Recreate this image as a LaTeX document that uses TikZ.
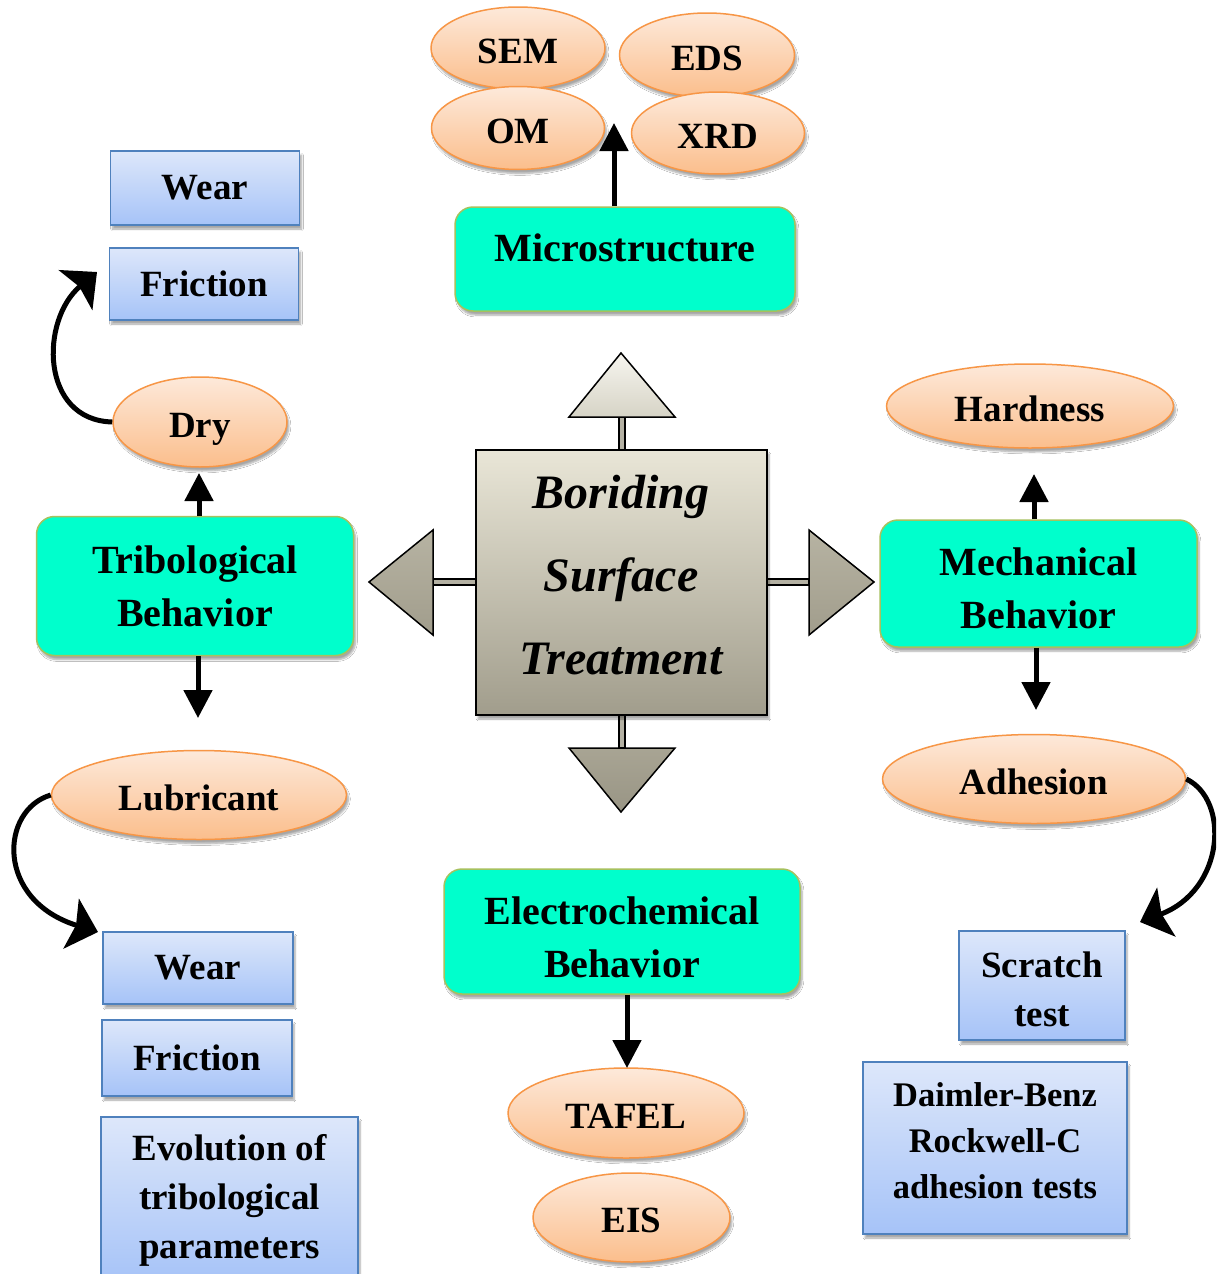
\documentclass[tikz,border=0pt]{standalone}
\usepackage{fontspec}
\setmainfont{Liberation Serif}
\usetikzlibrary{arrows.meta,shapes.geometric,shadows.blur}

\definecolor{aquafill}{HTML}{00FFCC}
\definecolor{aquaedge}{HTML}{A6C15E}
\definecolor{peachtop}{HTML}{FDE9DA}
\definecolor{peachbot}{HTML}{FBBE8C}
\definecolor{peachedge}{HTML}{F79646}
\definecolor{bluetop}{HTML}{DDE7FA}
\definecolor{bluebot}{HTML}{A6C3F8}
\definecolor{blueedge}{HTML}{4F81BD}
\definecolor{coretop}{HTML}{E9E6D7}
\definecolor{corebot}{HTML}{A19D8C}

\tikzset{
  softshadow/.style={blur shadow={shadow xshift=2pt,shadow yshift=-4pt,shadow opacity=35,shadow blur steps=6}},
  topicbox/.style={rectangle,rounded corners=18pt,draw=aquaedge,line width=1.5pt,fill=aquafill,
    softshadow,inner sep=0pt},
  topictext/.style={align=center,inner sep=0pt,font=\fontsize{40}{53}\selectfont\bfseries},
  oval/.style={ellipse,draw=peachedge,line width=1.5pt,top color=peachtop,bottom color=peachbot,
    softshadow,inner sep=0pt,text height=30pt,text depth=0pt,font=\fontsize{37}{44}\selectfont\bfseries},
  itembox/.style={rectangle,draw=blueedge,line width=1.5pt,top color=bluetop,bottom color=bluebot,
    softshadow,align=center,inner sep=0pt,font=\fontsize{37}{49}\selectfont\bfseries},
  itemtext/.style={align=center,inner sep=0pt,font=\fontsize{37}{49}\selectfont\bfseries},
  flowarrow/.style={line width=5pt,-{Triangle[width=28pt,length=28pt]}},
  bendarrow/.style={line width=5pt,-{Stealth[width=52pt,length=28pt,inset=5pt]}},
  spoke/.style={draw=black,line width=1.3pt,fill=corebot!80!white},
  dart/.style={draw=black,line width=1.5pt,line join=miter},
}

\begin{document}
\begin{tikzpicture}[x=1pt,y=1pt]
\clip (0,0) rectangle (1216,-1274);
\fill[white] (0,0) rectangle (1216,-1274);

% ---- central treatment block with its four darts ----
\path[spoke] (619,-417) rectangle (625,-452);
\path[spoke] (619,-713) rectangle (625,-748);
\path[spoke] (433,-579) rectangle (478,-585);
\path[spoke] (765,-579) rectangle (809,-585);
\path[dart,top color=white!60!coretop,bottom color=coretop!92!black] (569,-417) -- (621,-353) -- (675,-417) -- cycle;
\path[dart,top color=corebot!70!coretop,bottom color=corebot] (433,-530) -- (369,-582) -- (433,-635) -- cycle;
\path[dart,top color=corebot!70!coretop,bottom color=corebot] (809,-530) -- (874,-582) -- (809,-635) -- cycle;
\path[dart,top color=corebot!90!coretop,bottom color=corebot!95!black] (569,-748) -- (621,-812) -- (675,-748) -- cycle;
\node[rectangle,draw=black,line width=1.5pt,top color=coretop,bottom color=corebot,softshadow,
      minimum width=291pt,minimum height=265pt] (core) at (621.5,-582.5) {};
\node[align=center,font=\fontsize{48}{83}\selectfont\bfseries\itshape] (coretext) at (621,-575)
  {Boriding\\Surface\\Treatment};

% ---- microstructure ----
\node[oval,minimum width=174pt,minimum height=82pt] (sem) at (518,-48) {SEM};
\node[oval,minimum width=175pt,minimum height=84pt] (eds) at (707,-55) {EDS};
\node[oval,minimum width=173pt,minimum height=83pt] (om) at (518,-128) {OM};
\node[oval,minimum width=173pt,minimum height=82pt] (xrd) at (718,-133) {XRD};
\node[topicbox,minimum width=340pt,minimum height=104pt] (micro) at (625,-259) {};
\node[topictext] (microtext) at (625,-248) {Microstructure};
\coordinate (microtip) at (614,-123);
\draw[flowarrow] (micro.north -| microtip) -- (microtip);

% ---- tribological behaviour ----
\node[itembox,minimum width=189pt,minimum height=74pt] (wearA) at (205,-188) {Wear};
\node[itembox,minimum width=189pt,minimum height=72pt] (fricA) at (204,-284) {Friction};
\node[oval,minimum width=174pt,minimum height=90pt] (dry) at (200,-422) {Dry};
\node[topicbox,minimum width=317pt,minimum height=139pt] (tribo) at (195,-586) {};
\node[topictext] (tribotext) at (195,-586) {Tribological\\Behavior};
\node[oval,minimum width=295pt,minimum height=89pt] (lub) at (199,-795) {Lubricant};
\node[itembox,minimum width=190pt,minimum height=72pt] (wearB) at (198,-968) {Wear};
\node[itembox,minimum width=190pt,minimum height=76pt] (fricB) at (197,-1058) {Friction};
\node[itembox,minimum width=257pt,minimum height=166pt] (evol) at (229.5,-1200)
  {Evolution of\\tribological\\parameters};
\coordinate (drytip) at (199,-473);
\coordinate (lubtip) at (198,-718);
\draw[flowarrow] (tribo.north -| drytip) -- (drytip);
\draw[flowarrow] (tribo.south -| lubtip) -- (lubtip);
\coordinate (fricAin) at (97,-272);
\coordinate (wearBin) at (98,-932);
\draw[bendarrow] (dry.west) .. controls (40,-420) and (40,-320) .. (fricAin);
\draw[bendarrow] (lub.west) .. controls (0,-810) and (-5,-900) .. (wearBin);

% ---- mechanical behaviour ----
\node[oval,minimum width=287pt,minimum height=84pt] (hard) at (1030,-406) {Hardness};
\node[topicbox,minimum width=317pt,minimum height=127pt] (mech) at (1038.5,-583.5) {};
\node[topictext] (mechtext) at (1038.5,-588) {Mechanical\\Behavior};
\node[oval,minimum width=303pt,minimum height=89pt] (adh) at (1034,-779) {Adhesion};
\node[itembox,minimum width=166pt,minimum height=109pt] (scratch) at (1042,-985.5) {};
\node[itemtext] (scratchtext) at (1042,-989) {Scratch\\test};
\node[itembox,minimum width=264pt,minimum height=172pt] (daimler) at (995,-1148) {};
\node[align=center,inner sep=0pt,font=\fontsize{34.5}{46}\selectfont\bfseries]
  (daimlertext) at (995,-1141) {Daimler-Benz\\Rockwell-C\\adhesion tests};
\coordinate (hardtip) at (1034,-474);
\coordinate (adhtip) at (1036,-710);
\draw[flowarrow] (mech.north -| hardtip) -- (hardtip);
\draw[flowarrow] (mech.south -| adhtip) -- (adhtip);
\coordinate (scratchin) at (1140,-922);
\draw[bendarrow] (adh.east) .. controls (1230,-800) and (1225,-890) .. (scratchin);

% ---- electrochemical behaviour ----
\node[topicbox,minimum width=356pt,minimum height=125pt] (electro) at (622,-931.5) {};
\node[topictext] (electrotext) at (622,-937.5) {Electrochemical\\Behavior};
\node[oval,minimum width=236pt,minimum height=90pt] (tafel) at (626,-1113) {TAFEL};
\node[oval,minimum width=197pt,minimum height=89pt] (eis) at (631.5,-1217.5) {EIS};
\coordinate (tafeltip) at (627,-1068);
\draw[flowarrow] (electro.south -| tafeltip) -- (tafeltip);
\end{tikzpicture}
\end{document}
